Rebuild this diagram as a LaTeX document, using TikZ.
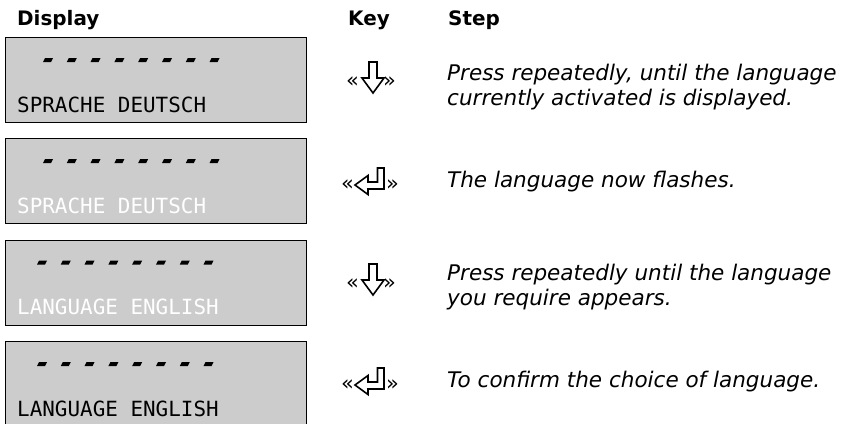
\documentclass[tikz,border=0pt]{standalone}
\usepackage{fontspec}
\setmainfont{DejaVu Sans}
\newfontfamily\lcdfont{DejaVu Sans Mono}
\definecolor{lcdgray}{HTML}{CCCCCC}
\begin{document}
\begin{tikzpicture}[x=1bp,y=-1bp,
  lcdbox/.style={draw=black, line width=1.4bp, fill=lcdgray, minimum width=301bp, minimum height=85bp, anchor=north west, inner sep=0},
  hdr/.style={font=\fontsize{20}{24}\selectfont\bfseries, anchor=base west, inner sep=0},
  steptext/.style={font=\fontsize{21.6}{25}\selectfont\itshape, anchor=base west, inner sep=0},
  lcdtext/.style={font=\lcdfont\fontsize{21}{24}\selectfont, anchor=base west, inner sep=0},
  guil/.style={font=\fontsize{21}{24}\selectfont, inner sep=0},
  keyicon/.style={draw=black, fill=white, line width=1.6bp, line join=miter},
  lcddash/.style={fill=black}
]
\useasboundingbox (0,0) rectangle (841,423);
\clip (0,0) rectangle (841,423);

% headers
\node[hdr] (hdisp) at (17,25) {Display};
\node[hdr] (hkey) at (348,25) {Key};
\node[hdr] (hstep) at (448,25) {Step};

% display boxes
\node[lcdbox] (box1) at (5,37) {};
\node[lcdbox] (box2) at (5,138) {};
\node[lcdbox] (box3) at (5,239.5) {};
\node[lcdbox] (box4) at (5,341) {};

% dashes
\foreach \t/\x in {37/43, 138/43, 239.5/37, 341/37}{
  \foreach \i in {0,...,7}{
    \fill[lcddash] (\x+\i*23.8,\t+25) -- (\x+\i*23.8+8,\t+25) -- (\x+\i*23.8+10,\t+21) -- (\x+\i*23.8+2,\t+21) -- cycle;
  }
}

% display texts
\node[lcdtext, text=black] (d1) at (17,112) {SPRACHE DEUTSCH};
\node[lcdtext, text=white] (d2) at (17,213) {SPRACHE DEUTSCH};
\node[lcdtext, text=white] (d3) at (17,314.5) {LANGUAGE ENGLISH};
\node[lcdtext, text=black] (d4) at (17,416) {LANGUAGE ENGLISH};

% key icons: down arrow (rows 1 and 3)
\foreach \yc/\n in {81/a, 283/c}{
  \node[guil, anchor=base east] (kl\n) at (359,\yc+6) {«};
  \node[guil, anchor=base west] (kr\n) at (383,\yc+6) {»};
  \begin{scope}[shift={(373,\yc)}]
    \draw[keyicon] (-4,-19) -- (4,-19) -- (4,-3) -- (11,-3) -- (0,12) -- (-11,-3) -- (-4,-3) -- cycle;
  \end{scope}
}
% key icons: enter arrow (rows 2 and 4)
\foreach \yc/\n in {184/b, 384/d}{
  \node[guil, anchor=base east] (kl\n) at (354,\yc+6) {«};
  \node[guil, anchor=base west] (kr\n) at (386,\yc+6) {»};
  \begin{scope}[shift={(370,\yc)}]
    \draw[keyicon] (7.5,-16) -- (14,-16) -- (14,5) -- (-2,5) -- (-2,10.5) -- (-15,1) -- (-2,-8.5) -- (-2,-2) -- (7.5,-2) -- cycle;
  \end{scope}
}

% step texts
\node[steptext] (s1a) at (447,80) {Press repeatedly, until the language};
\node[steptext] (s1b) at (447,105) {currently activated is displayed.};
\node[steptext] (s2) at (447,187) {The language now flashes.};
\node[steptext] (s3a) at (447,280) {Press repeatedly until the language};
\node[steptext] (s3b) at (447,305) {you require appears.};
\node[steptext] (s4) at (447,387) {To confirm the choice of language.};
\end{tikzpicture}
\end{document}
